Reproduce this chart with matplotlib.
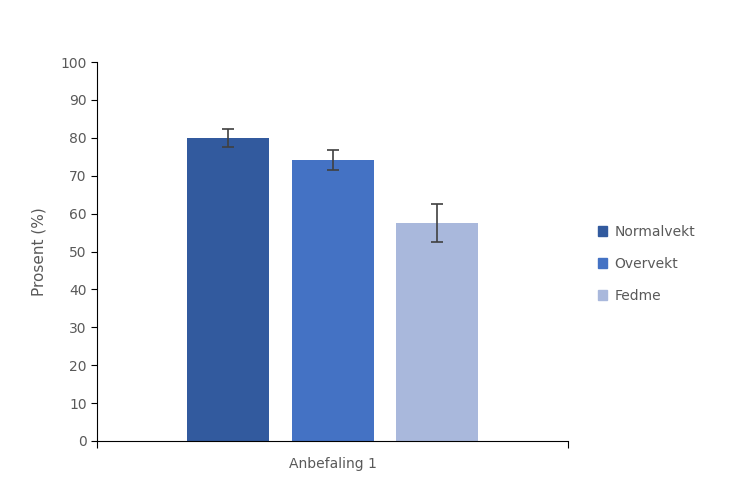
import matplotlib
matplotlib.use("Agg")
import matplotlib.pyplot as plt
from matplotlib.patches import Patch

series = ["Normalvekt", "Overvekt", "Fedme"]
values = [80.0, 74.2, 57.5]
errors = [2.3, 2.7, 5.0]
colors = ["#325A9E", "#4472C4", "#A9B8DC"]
category = "Anbefaling 1"
yticks = list(range(0, 101, 10))

grey = "#595959"
fig = plt.figure(figsize=(7.44, 4.96), dpi=100)
ax = fig.add_axes([97/744, 1-441/496, 471/744, 379/496])
pos = [-1, 0, 1]
ax.bar(pos, values, width=0.785, color=colors, yerr=errors,
       error_kw=dict(ecolor="#404040", elinewidth=1.2, capsize=4, capthick=1.2))
ax.set_xlim(-2.258, 2.249)
ax.set_ylim(0, 100)
ax.set_yticks(yticks)
ax.set_xticks([-2.258, 2.249])
ax.set_xticklabels(["", ""])
ax.tick_params(axis="x", length=5, color="black")
ax.tick_params(axis="y", length=4, color="black", labelcolor=grey, labelsize=10)
for s in ["top", "right"]:
    ax.spines[s].set_visible(False)
ax.text(0, -6.2, category, ha="center", va="center", color=grey, fontsize=10,
        transform=ax.transData)
ax.set_ylabel("Prosent (%)", color=grey, fontsize=11, labelpad=10)
handles = [Patch(color=c, label=s) for c, s in zip(colors, series)]
leg = fig.legend(handles=handles, loc="center left", bbox_to_anchor=(585/744, 1-264/496),
                 frameon=False, fontsize=10, labelspacing=1.3, handlelength=0.7,
                 handleheight=0.7, handletextpad=0.5)
for t in leg.get_texts():
    t.set_color(grey)
fig.savefig("out.png", dpi=100)
